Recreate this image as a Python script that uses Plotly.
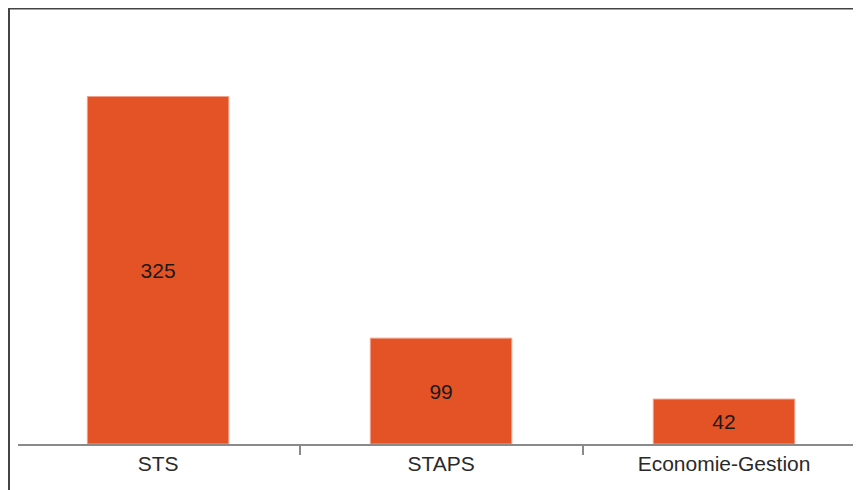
import plotly.graph_objects as go

categories = ["STS", "STAPS", "Economie-Gestion"]
values = [325, 99, 42]

# page body adds an 8px margin, so the figure is 8px smaller than the window
W, H = 853, 482
ML, MR, MT, MB = 10, 0, 0, 46
pw = W - ML - MR
ph = H - MT - MB

def px_x(p):
    return (p - ML) / pw

def px_y(p):
    return (H - MB - p) / ph

fig = go.Figure(go.Bar(
    x=categories,
    y=values,
    width=0.5,
    marker=dict(color="#E35326", line=dict(color="#F2A08A", width=1)),
    text=[str(v) for v in values],
    textposition="inside",
    insidetextanchor="middle",
    textfont=dict(family="Liberation Sans, Arial, sans-serif", size=21, color="#1a1a1a"),
    hoverinfo="skip",
))

fig.update_layout(
    width=W, height=H,
    margin=dict(l=ML, r=MR, t=MT, b=MB),
    paper_bgcolor="white",
    plot_bgcolor="white",
    showlegend=False,
    font=dict(family="Liberation Sans, Arial, sans-serif", size=21, color="#2a2a2a"),
    uniformtext=dict(minsize=10, mode="show"),
    xaxis=dict(
        type="category",
        range=[-0.495, 2.484],
        showline=True, linecolor="#8a8a8a", linewidth=1.5,
        ticks="outside", tickson="boundaries", ticklen=9, tickcolor="#8a8a8a", tickwidth=1.5,
        showgrid=False, zeroline=False,
        tickfont=dict(size=21, color="#2a2a2a"),
    ),
    yaxis=dict(
        range=[0, 407.8],
        visible=False,
        showgrid=False, zeroline=False,
    ),
    shapes=[
        dict(type="line", xref="paper", yref="paper",
             x0=px_x(0), x1=px_x(W + 5), y0=px_y(0.5), y1=px_y(0.5),
             line=dict(color="#444444", width=2)),
        dict(type="line", xref="paper", yref="paper",
             x0=px_x(1), x1=px_x(1), y0=px_y(0), y1=px_y(H + 5),
             line=dict(color="#444444", width=2)),
    ],
)

fig.write_html("out.html")
